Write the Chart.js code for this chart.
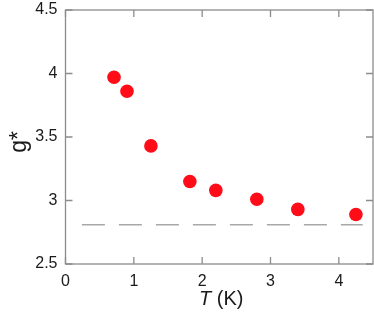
<!DOCTYPE html>
<html>
<head>
<meta charset="utf-8">
<script src="https://cdn.jsdelivr.net/npm/chart.js@4/dist/chart.umd.min.js"></script>
<style>
  html, body { margin: 0; padding: 0; background: #fff; }
  #wrap { width: 374px; height: 316px; }
</style>
</head>
<body>
<div id="wrap"><canvas id="graph"></canvas></div>
<script>
// temperature (K) and g* values
const temperatures = [0.71, 0.90, 1.25, 1.82, 2.20, 2.80, 3.40, 4.25];
const gValues = [3.97, 3.86, 3.43, 3.15, 3.08, 3.01, 2.93, 2.89];
// dashed reference level
const refX = [0.24, 4.35];
const refY = [2.81, 2.81];
const xTicks = [0, 1, 2, 3, 4];
const yTicks = [2.5, 3, 3.5, 4, 4.5];

const fontFam = '"Liberation Sans", Arial, sans-serif';

// box round the plot, inward ticks on all sides, axis titles
const framePlugin = {
    id: 'frame',
    afterDraw(chart) {
        const ctx = chart.ctx;
        const a = chart.chartArea;
        const xs = chart.scales.x, ys = chart.scales.y;
        const tl = 7;
        ctx.save();
        ctx.strokeStyle = '#8c8c8c';
        ctx.lineWidth = 1.3;
        ctx.strokeRect(a.left, a.top, a.right - a.left, a.bottom - a.top);
        ctx.beginPath();
        xTicks.forEach(v => {
            const px = xs.getPixelForValue(v);
            ctx.moveTo(px, a.bottom); ctx.lineTo(px, a.bottom - tl);
            ctx.moveTo(px, a.top); ctx.lineTo(px, a.top + tl);
        });
        yTicks.forEach(v => {
            const py = ys.getPixelForValue(v);
            ctx.moveTo(a.left, py); ctx.lineTo(a.left + tl, py);
            ctx.moveTo(a.right, py); ctx.lineTo(a.right - tl, py);
        });
        ctx.stroke();

        // x title: italic T followed by (K)
        ctx.fillStyle = '#1a1a1a';
        ctx.textBaseline = 'alphabetic';
        const italic = 'italic 20px ' + fontFam;
        const normal = '20px ' + fontFam;
        ctx.font = italic;
        const wT = ctx.measureText('T').width;
        ctx.font = normal;
        const wK = ctx.measureText(' (K)').width;
        const cx = (a.left + a.right) / 2 + 2;
        let x0 = cx - (wT + wK) / 2;
        ctx.font = italic;
        ctx.fillText('T', x0, 305);
        ctx.font = normal;
        ctx.fillText(' (K)', x0 + wT, 305);

        // y title
        ctx.translate(26, (a.top + a.bottom) / 2 + 5);
        ctx.rotate(-Math.PI / 2);
        ctx.font = '23px ' + fontFam;
        ctx.textAlign = 'center';
        ctx.fillText('g*', 0, 0);
        ctx.restore();
    }
};

document.addEventListener("DOMContentLoaded", function() {
    const ctx = document.getElementById('graph').getContext('2d');

    const points = temperatures.map((t, i) => ({ x: t, y: gValues[i] }));
    const refLine = refX.map((t, i) => ({ x: t, y: refY[i] }));

    const data = {
        datasets: [{
            type: 'line',
            data: refLine,
            borderColor: '#a8a8a8',
            borderWidth: 1.5,
            borderDash: [23, 14],
            pointRadius: 0,
            fill: false
        }, {
            type: 'scatter',
            data: points,
            backgroundColor: 'rgb(255, 12, 24)',
            borderWidth: 0,
            pointRadius: 6.8
        }]
    };

    const config = {
        type: 'scatter',
        data: data,
        options: {
            responsive: true,
            maintainAspectRatio: false,
            animation: false,
            layout: { autoPadding: false, padding: { top: 10, right: 1, left: 0, bottom: 0 } },
            plugins: { legend: { display: false }, tooltip: { enabled: false } },
            scales: {
                x: {
                    type: 'linear',
                    min: 0,
                    max: 4.5,
                    grid: { display: false, drawTicks: false },
                    border: { display: false },
                    ticks: {
                        stepSize: 1,
                        includeBounds: false,
                        padding: 8,
                        color: '#1a1a1a',
                        font: { family: fontFam, size: 16 },
                        maxRotation: 0
                    },
                    afterFit: s => {
                        s.height = 52;
                        s.paddingLeft = 0; s.paddingRight = 0;
                    }
                },
                y: {
                    min: 2.5,
                    max: 4.5,
                    grid: { display: false, drawTicks: false },
                    border: { display: false },
                    ticks: {
                        stepSize: 0.5,
                        padding: 8,
                        color: '#1a1a1a',
                        font: { family: fontFam, size: 16 },
                        callback: v => String(v)
                    },
                    afterFit: s => {
                        s.width = 65.5;
                        s.paddingTop = 0; s.paddingBottom = 0;
                    }
                }
            }
        },
        plugins: [framePlugin]
    };

    const monGraphique = new Chart(ctx, config);
});
</script>
</body>
</html>
